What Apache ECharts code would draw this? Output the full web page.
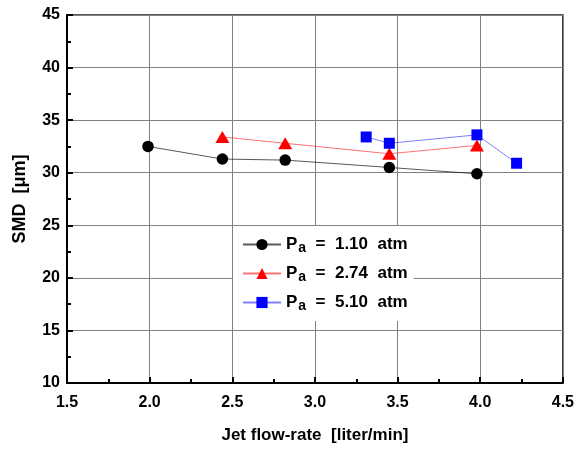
<!DOCTYPE html>
<html>
<head>
<meta charset="utf-8">
<script src="https://cdn.jsdelivr.net/npm/echarts@6/dist/echarts.min.js"></script>
<style>
html,body{margin:0;padding:0;background:#fff;}
#c{width:577px;height:449px;}
</style>
</head>
<body>
<div id="c"></div>
<script>
// Data
const x110 = [1.99, 2.44, 2.82, 3.45, 3.98];
const y110 = [32.5, 31.3, 31.2, 30.5, 29.9];
const x274 = [2.44, 2.82, 3.45, 3.98];
const y274 = [33.4, 32.8, 31.8, 32.6];
const x510 = [3.31, 3.45, 3.98, 4.22];
const y510 = [33.4, 32.8, 33.6, 30.9];
const pressures = ['1.10', '2.74', '5.10'];
const xTitle = 'Jet flow-rate  [liter/min]';
const yTitle = 'SMD  [\u03bcm]';

const pair = (xs, ys) => xs.map((x, i) => [x, ys[i]]);
const FONT = '"Liberation Sans", Arial, sans-serif';

const chart = echarts.init(document.getElementById('c'), null, {renderer: 'canvas'});

const axisCommon = {
  axisLine: {show: true, onZero: false, lineStyle: {color: '#000', width: 2}},
  axisTick: {show: true, inside: true, length: 6, lineStyle: {color: '#000', width: 2}},
  minorTick: {show: true, splitNumber: 2, length: 4, lineStyle: {color: '#000', width: 2}},
  splitLine: {show: true, lineStyle: {color: '#808080', width: 1}},
  axisLabel: {color: '#000', fontFamily: FONT, fontWeight: 'bold', fontSize: 16, margin: 7},
  nameLocation: 'middle',
  nameTextStyle: {color: '#000', fontFamily: FONT, fontWeight: 'bold', fontSize: 17}
};

const names = pressures.map(p => 'Pa = ' + p + ' atm');

chart.setOption({
  animation: false,
  backgroundColor: '#fff',
  grid: {left: 67, right: 12, top: 15, bottom: 65, show: true, borderColor: '#222', borderWidth: 1.5, backgroundColor: 'transparent'},
  xAxis: Object.assign({}, axisCommon, {
    type: 'value', min: 1.5, max: 4.5, interval: 0.5,
    name: xTitle, nameGap: 44,
    axisLabel: Object.assign({}, axisCommon.axisLabel, {margin: 12, formatter: v => v.toFixed(1)})
  }),
  yAxis: Object.assign({}, axisCommon, {
    type: 'value', min: 10, max: 45, interval: 5,
    name: yTitle, nameGap: 38,
    nameTextStyle: Object.assign({}, axisCommon.nameTextStyle, {fontSize: 18})
  }),
  legend: {
    orient: 'vertical',
    left: 233, top: 226,
    padding: [6, 6, 8, 9],
    backgroundColor: '#fff',
    itemWidth: 38, itemHeight: 14, itemGap: 6,
    data: names,
    formatter: function (name) {
      const p = pressures[names.indexOf(name)];
      return '{p|P}{s|a}{t|  =  ' + p + '  atm}';
    },
    textStyle: {
      fontFamily: FONT, color: '#000',
      rich: {
        p: {fontFamily: FONT, fontWeight: 'bold', fontSize: 17, lineHeight: 21, color: '#000'},
        s: {fontFamily: FONT, fontWeight: 'bold', fontSize: 14, lineHeight: 21, padding: [9, 0, 0, 1], verticalAlign: 'bottom', color: '#000'},
        t: {fontFamily: FONT, fontWeight: 'bold', fontSize: 17, lineHeight: 21, color: '#000'}
      }
    }
  },
  series: [
    {
      name: names[0], type: 'line', data: pair(x110, y110),
      symbol: 'circle', symbolSize: 11.5,
      itemStyle: {color: '#000'},
      lineStyle: {color: 'rgba(0,0,0,0.65)', width: 1}
    },
    {
      name: names[1], type: 'line', data: pair(x274, y274),
      symbol: 'triangle', symbolSize: [14, 12],
      itemStyle: {color: '#ff0000'},
      lineStyle: {color: 'rgba(255,0,0,0.55)', width: 1}
    },
    {
      name: names[2], type: 'line', data: pair(x510, y510),
      symbol: 'rect', symbolSize: 11,
      itemStyle: {color: '#0000ff'},
      lineStyle: {color: 'rgba(0,0,255,0.5)', width: 1}
    }
  ]
});
</script>
</body>
</html>
